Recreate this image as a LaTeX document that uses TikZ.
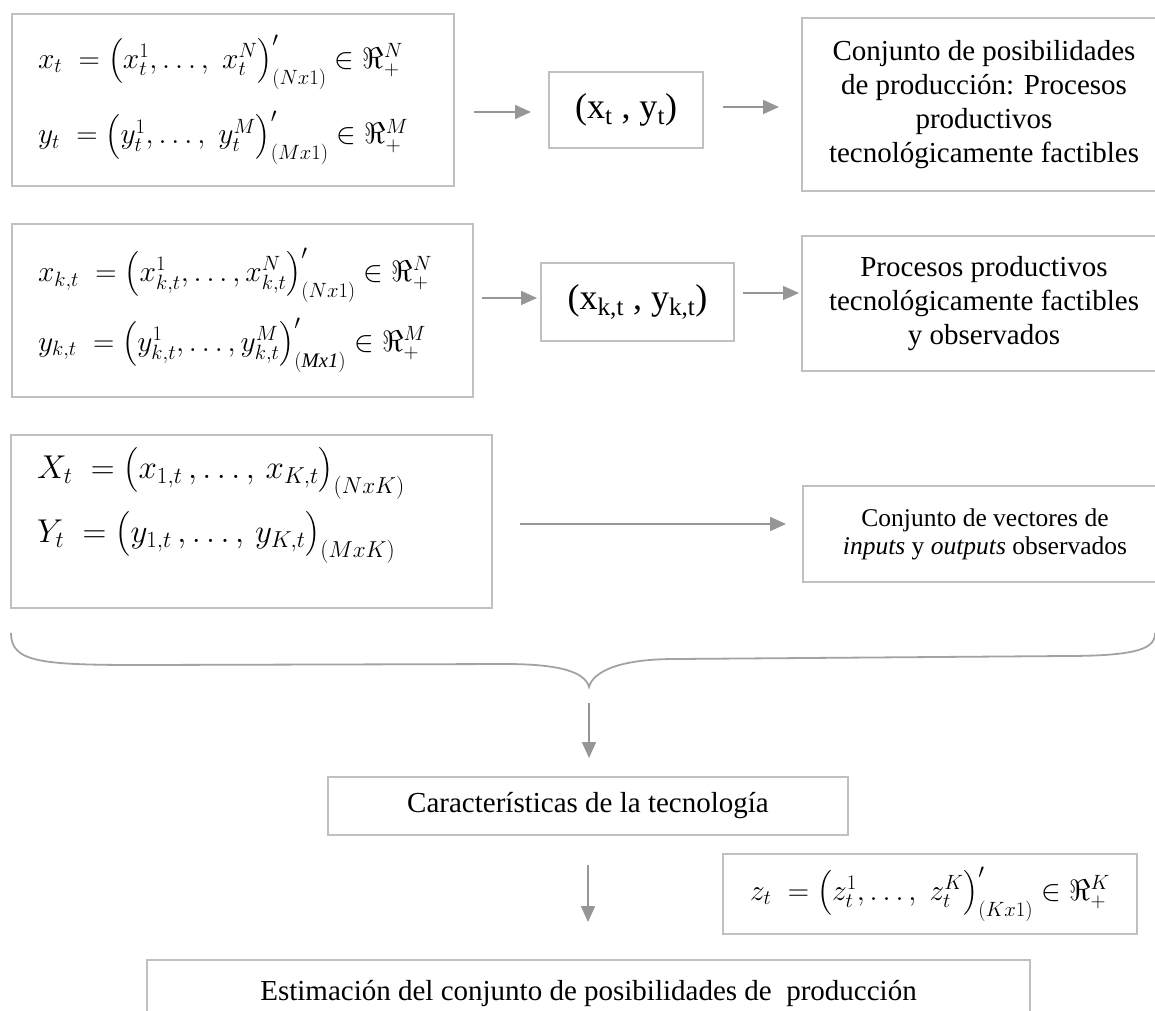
\RequirePackage{fix-cm}
\documentclass[tikz,border=0pt]{standalone}
\usepackage{amsmath}
\usepackage{fontspec}
\setmainfont{Liberation Serif}
\usetikzlibrary{arrows.meta}

\definecolor{boxgray}{RGB}{192,192,192}
\definecolor{arrowgray}{RGB}{150,150,150}

\tikzstyle{formbox} = [draw=boxgray, line width=2pt, rectangle, align=left, inner xsep=26pt, font=\fontsize{29.5}{35}\selectfont]
\tikzstyle{block} = [draw=boxgray, line width=2pt, rectangle, align=center, font=\fontsize{29}{34}\selectfont]
\tikzstyle{blockSmall} = [block, font=\fontsize{36}{40}\selectfont]
\tikzstyle{arrow} = [draw=arrowgray, line width=1.7pt, -{Triangle[length=16pt,width=14pt]}]
\tikzstyle{brace} = [draw=boxgray!85!black, line width=1.8pt]

\begin{document}
\begin{tikzpicture}[x=1pt, y=-1pt]
  \useasboundingbox (0,0) rectangle (1155,1010);

  % first row
  \node [formbox, minimum width=442pt, minimum height=172pt, text width=390pt] (obsvec) at (233,100)
    {$\begin{array}{@{}l@{}}
      x_t\;=\bigl(x_t^1,\ldots,\;x_t^N\bigr)'_{(Nx1)}\in\Re^N_+\\[32pt]
      y_t\;=\bigl(y_t^1,\ldots,\;y_t^M\bigr)'_{(Mx1)}\in\Re^M_+
    \end{array}$};
  \node [blockSmall, minimum width=154pt, minimum height=76pt, right of=obsvec, node distance=393pt, yshift=-10pt] (pairbox)
    {(x\textsubscript{t} , y\textsubscript{t})};
  \node [block, minimum width=364pt, minimum height=173pt, right of=pairbox, node distance=358pt, yshift=5.5pt] (setbox)
    {Conjunto de posibilidades\\de producción: Procesos\\productivos\\tecnológicamente factibles};

  % second row
  \node [formbox, minimum width=461pt, minimum height=173pt, text width=409pt, below of=obsvec, node distance=210.5pt, xshift=9.5pt] (obsfirm)
    {$\begin{array}{@{}l@{}}
      x_{k,t}\;=\bigl(x_{k,t}^1,\ldots,x_{k,t}^N\bigr)'_{(Nx1)}\in\Re^N_+\\[26pt]
      y_{k,t}\;=\bigl(y_{k,t}^1,\ldots,y_{k,t}^M\bigr)'_{\mathit{(Mx1)}}\in\Re^M_+
    \end{array}$};
  \node [blockSmall, minimum width=193pt, minimum height=78pt, right of=obsfirm, node distance=395pt, yshift=8.5pt] (pairfirm)
    {(x\textsubscript{k,t} , y\textsubscript{k,t})};
  \node [block, minimum width=364pt, minimum height=135pt, right of=pairfirm, node distance=346.5pt, yshift=-1.5pt] (procbox)
    {Procesos productivos\\tecnológicamente factibles\\y observados};

  % third row
  \node [formbox, font=\fontsize{33}{38}\selectfont, minimum width=481pt, minimum height=173pt, text width=429pt, below of=obsfirm, node distance=211pt, xshift=9pt] (matbox)
    {$\begin{array}{@{}l@{}}
      X_t\;=\bigl(x_{1,t}\,,\ldots,\,x_{K,t}\bigr)_{(NxK)}\\[22pt]
      Y_t\;=\bigl(y_{1,t}\,,\ldots,\,y_{K,t}\bigr)_{(MxK)}\\[42pt]
    \end{array}$};
  \node [block, font=\fontsize{25.5}{28}\selectfont, minimum width=364pt, minimum height=96pt, right of=matbox, node distance=733.5pt, yshift=-12.5pt] (vecbox)
    {Conjunto de vectores de\\\textit{inputs} y \textit{outputs} observados};

  % brace
  \coordinate (bl) at (11,633);
  \coordinate (br) at (1155,633);
  \coordinate (tip) at (589,687);
  \draw [brace] (bl) .. controls (11,662) and (40,665) .. (140,665) -- (505,664)
    .. controls (560,664) and (585,672) .. (tip)
    .. controls (593,672) and (618,659) .. (675,659) -- (1065,656)
    .. controls (1140,656) and (1155,648) .. (br);

  % bottom part
  \node [block, minimum width=520pt, minimum height=58pt] (techbox) at (588,806) {Características de la tecnología};
  \node [formbox, align=center, minimum width=414pt, minimum height=80pt, inner xsep=10pt] (zbox) at (930,894)
    {$z_t\;=\bigl(z_t^1,\ldots,\;z_t^K\bigr)'_{(Kx1)}\in\Re^K_+$};
  \node [block, anchor=north, minimum width=883pt, minimum height=66pt] (estbox) at (588.5,959)
    {Estimación del conjunto de posibilidades de~ producción};

  \draw [arrow, shorten <=19pt, shorten >=17pt] ([yshift=-2pt]obsvec.east |- pairbox.west) -- ([yshift=-2pt]pairbox.west);
  \draw [arrow, shorten <=19pt, shorten >=22pt] ([yshift=3pt]pairbox.east) -- ([yshift=3pt]pairbox.east -| setbox.west);
  \draw [arrow, shorten <=8pt, shorten >=3pt] ([yshift=4pt]obsfirm.east |- pairfirm.west) -- ([yshift=4pt]pairfirm.west);
  \draw [arrow, shorten <=8pt, shorten >=2pt] ([yshift=9pt]pairfirm.east) -- ([yshift=9pt]pairfirm.east -| procbox.west);
  \draw [arrow, shorten <=27pt, shorten >=16pt] ([yshift=-2.5pt]matbox.east) -- ([yshift=-2.5pt]matbox.east -| vecbox.west);

  \draw [arrow, shorten <=16pt, shorten >=18pt] (tip) -- (tip |- techbox.north);
  \draw [arrow, shorten <=29pt, shorten >=37pt] (techbox.south) -- (techbox.south |- estbox.north);
\end{tikzpicture}
\end{document}
